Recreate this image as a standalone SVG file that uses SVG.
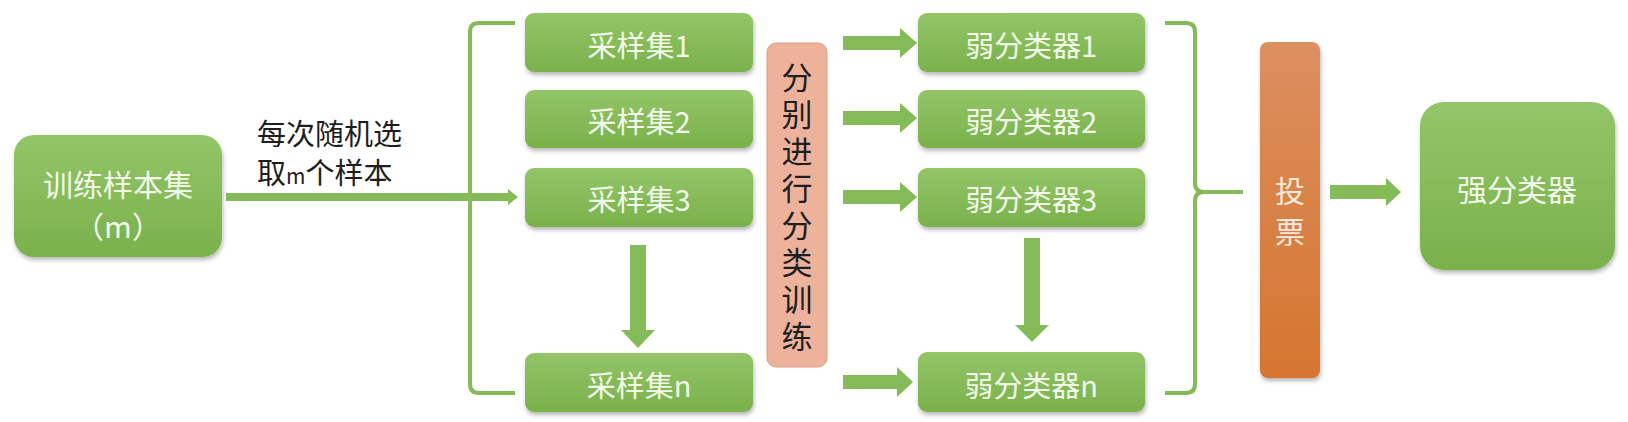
<svg xmlns="http://www.w3.org/2000/svg" width="1628" height="422" viewBox="0 0 1628 422">
  <defs>
    <linearGradient id="gGreen" x1="0" y1="0" x2="0" y2="1">
      <stop offset="0" stop-color="#93C568"/>
      <stop offset="1" stop-color="#7AB14B"/>
    </linearGradient>
    <linearGradient id="gOrange" x1="0" y1="0" x2="0" y2="1">
      <stop offset="0" stop-color="#DC8F60"/>
      <stop offset="1" stop-color="#D5752F"/>
    </linearGradient>
    <filter id="sh" x="-10%" y="-10%" width="120%" height="130%">
      <feDropShadow dx="1" dy="3" stdDeviation="2" flood-color="#000" flood-opacity="0.28"/>
    </filter>
    <style>
      .box { fill: url(#gGreen); filter: url(#sh); }
      .t { font-family: "Noto Sans CJK SC", "Noto Sans", sans-serif; fill: #F2F9EA; text-anchor: middle; dominant-baseline: central; }
      .dark { font-family: "Noto Sans CJK SC", "Noto Sans", sans-serif; fill: #1E1E1E; }
      .vt { font-family: "Noto Sans CJK SC", sans-serif; writing-mode: vertical-rl; text-orientation: upright; }
      .arr { fill: #84BA58; }
      .br { fill: none; stroke: #84BA58; stroke-width: 4; }
    </style>
  </defs>
  <rect width="1628" height="422" fill="#FFFFFF"/>

  <g id="connectors">
    <rect class="arr" x="226" y="193" width="286" height="8"/>
    <polygon class="arr" points="508,189 518,197 508,205"/>
    <path class="br" d="M515,23 H479 Q470,23 470,32 V384 Q470,393 479,393 H515"/>
    <polygon class="arr" points="630,245 646,245 646,330 655,330 638,348 621,330 630,330"/>
    <polygon class="arr" points="843,36 900,36 900,28 917,43 900,58 900,50 843,50"/>
    <polygon class="arr" points="843,111 900,111 900,103 917,118 900,133 900,125 843,125"/>
    <polygon class="arr" points="843,190 900,190 900,182 917,197 900,212 900,204 843,204"/>
    <polygon class="arr" points="843,375 897,375 897,367 913,382 897,397 897,389 843,389"/>
    <polygon class="arr" points="1024,238 1040,238 1040,325 1049,325 1032,342 1015,325 1024,325"/>
    <path class="br" d="M1165,23 H1186 Q1195,23 1195,32 V183 Q1195,192 1204,192 H1243 M1204,192 Q1195,192 1195,201 V384 Q1195,393 1186,393 H1165"/>
    <polygon class="arr" points="1330,185 1386,185 1386,178 1401,192 1386,206 1386,199 1330,199"/>
  </g>

  <g id="train-set">
    <rect class="box" x="14" y="135" width="208" height="122" rx="20"/>
    <text class="t" x="118" y="183" font-size="30">训练样本集</text>
    <text class="t" x="118" y="225" font-size="30">（m）</text>
  </g>

  <g id="label">
    <text class="dark" x="257" y="145" font-size="29">每次随机选</text>
    <text class="dark" x="257" y="184" font-size="29">取<tspan font-size="21">m</tspan>个样本</text>
  </g>

  <g id="sample1"><rect class="box" x="525" y="13" width="228" height="59" rx="9"/><text class="t" x="639" y="44" font-size="29">采样集1</text></g>
  <g id="sample2"><rect class="box" x="525" y="90" width="228" height="58" rx="9"/><text class="t" x="639" y="120" font-size="29">采样集2</text></g>
  <g id="sample3"><rect class="box" x="525" y="168" width="228" height="59" rx="9"/><text class="t" x="639" y="198" font-size="29">采样集3</text></g>
  <g id="samplen"><rect class="box" x="525" y="353" width="228" height="59" rx="9"/><text class="t" x="639" y="384" font-size="29">采样集n</text></g>

  <g id="train-each">
    <rect x="767" y="43" width="60" height="324" rx="9" fill="#EDB29B" stroke="#E09C82" stroke-width="1"/>
    <text class="vt" x="797" y="61.5" font-size="31" letter-spacing="6" fill="#1E1E1E">分别进行分类训练</text>
  </g>

  <g id="weak1"><rect class="box" x="918" y="13" width="227" height="59" rx="9"/><text class="t" x="1031" y="44" font-size="29">弱分类器1</text></g>
  <g id="weak2"><rect class="box" x="918" y="90" width="227" height="58" rx="9"/><text class="t" x="1031" y="120" font-size="29">弱分类器2</text></g>
  <g id="weak3"><rect class="box" x="918" y="168" width="227" height="59" rx="9"/><text class="t" x="1031" y="198" font-size="29">弱分类器3</text></g>
  <g id="weakn"><rect class="box" x="918" y="352" width="227" height="60" rx="9"/><text class="t" x="1031" y="384" font-size="29">弱分类器n</text></g>

  <g id="vote">
    <rect x="1260" y="42" width="60" height="336" rx="8" fill="url(#gOrange)" filter="url(#sh)"/>
    <text class="vt" x="1290" y="176" font-size="30" letter-spacing="11" fill="#F7E9DD">投票</text>
  </g>

  <g id="strong">
    <rect class="box" x="1420" y="102" width="195" height="168" rx="24"/>
    <text class="t" x="1517" y="188" font-size="30">强分类器</text>
  </g>
</svg>
